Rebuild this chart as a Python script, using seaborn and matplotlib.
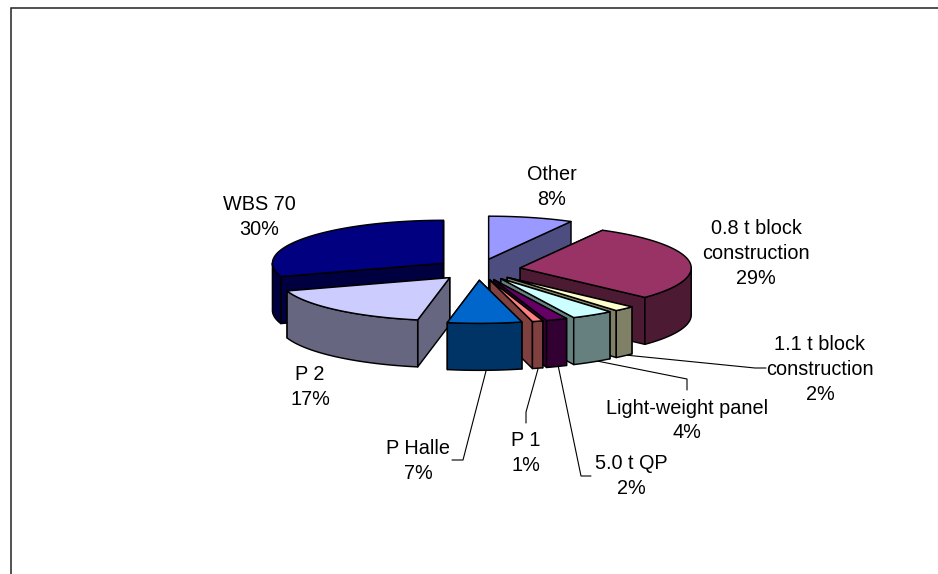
import numpy as np
import seaborn as sns
import matplotlib
matplotlib.use("Agg")
import matplotlib.pyplot as plt
from matplotlib.colors import to_rgb

# Share of output per product line, clockwise from twelve o'clock
products = ["Other", "0.8 t block\nconstruction", "1.1 t block\nconstruction",
            "Light-weight panel", "5.0 t QP", "P 1", "P Halle", "P 2", "WBS 70"]
shares = [8, 29, 2, 4, 2, 1, 7, 17, 30]
top_colors = ["#9999FF", "#993366", "#FFFFCC", "#CCFFFF", "#660066",
              "#FF8080", "#0066CC", "#CCCCFF", "#000080"]

# Back-to-front order in which the slices have to be painted
paint_order = [0, 8, 1, 7, 2, 3, 4, 5, 6]

# Projected disc geometry, in figure pixels
CX, CY = 478.0, 269.6
RX, RY = 171.0, 43.0
DEPTH = 47.0
EXPLODE = 0.25

sns.set_theme(style="white")
plt.rcParams["font.family"] = ["Liberation Sans", "DejaVu Sans"]

W, H = 938, 574
fig = plt.figure(figsize=(W / 100, H / 100), dpi=100, facecolor="white")
ax = fig.add_axes([0, 0, 1, 1])
ax.set_xlim(0, W)
ax.set_ylim(H, 0)
ax.axis("off")

# Chart area border: only the top and left edges fall inside the canvas
ax.plot([10.5, 10.5, W], [H, 8.2, 8.2], color="#222222", lw=1.1, zorder=1,
        solid_joinstyle="miter")


def rim(theta_deg, ox, oy):
    t = np.radians(theta_deg)
    return ox + RX * np.sin(t), oy - RY * np.cos(t)


def face(xs, ys, color, z):
    ax.fill(xs, ys, facecolor=color, edgecolor="black", lw=1.05,
            joinstyle="round", zorder=z)


bounds = np.concatenate([[0], np.cumsum(shares)]) * 3.6
z = 2.0
for i in paint_order:
    start, stop = bounds[i], bounds[i + 1]
    mid = np.radians((start + stop) / 2)
    ox = CX + EXPLODE * RX * np.sin(mid)
    oy = CY - EXPLODE * RY * np.cos(mid)
    top = np.array(to_rgb(top_colors[i]))
    side = top * 0.5

    # Radial cut walls, the one further back first
    for a in sorted([start, stop], key=lambda v: rim(v, ox, oy)[1]):
        rx, ry = rim(a, ox, oy)
        face([ox, rx, rx, ox], [oy, ry, ry + DEPTH, oy + DEPTH], side, z)
        z += 0.01

    # Outer wall, only the part on the viewer's side of the disc
    lo, hi = max(start, 90), min(stop, 270)
    if hi > lo:
        th = np.linspace(lo, hi, 60)
        rx, ry = rim(th, ox, oy)
        face(np.r_[rx, rx[::-1]], np.r_[ry, ry[::-1] + DEPTH], side, z)
        z += 0.01

    # Top face
    th = np.linspace(start, stop, 80)
    rx, ry = rim(th, ox, oy)
    face(np.r_[ox, rx], np.r_[oy, ry], top, z)
    z += 0.01

# Label centres and leader line routes, in figure pixels
label_pos = [(552, 187), (756, 253.5), (820, 369.5), (687, 420.5), (631, 476),
             (526, 453), (418, 461), (310, 387), (259, 217)]
leaders = {
    2: [(625, 355), (755, 368), (766, 368)],
    3: [(597, 361), (687, 379), (687, 390)],
    4: [(558, 365), (581, 476), (591, 476)],
    5: [(538, 369), (526, 412), (526, 423)],
    6: [(486, 371), (463, 460), (452, 460)],
}
for route in leaders.values():
    xs, ys = zip(*route)
    ax.plot(xs, ys, color="black", lw=0.8, zorder=1.5)

for name, share, (x, y) in zip(products, shares, label_pos):
    ax.text(x, y, f"{name}\n{share}%", ha="center", va="center", fontsize=14.3,
            linespacing=1.4, color="black", zorder=20)

fig.savefig("out.png", dpi=100, facecolor="white")
